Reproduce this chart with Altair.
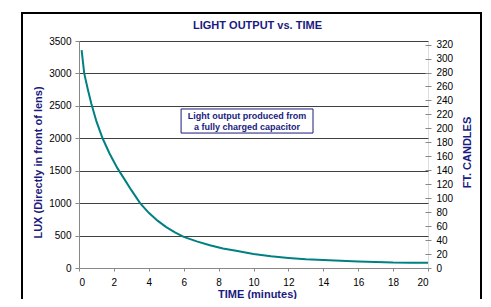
import altair as alt
import pandas as pd

# Data
times = [0.15, 0.3, 0.5, 0.7, 1.0, 1.35, 1.75, 2.2, 2.6, 3.0, 3.5, 4.0, 4.5, 5.0, 5.5,
         6.0, 6.75, 7.5, 8.25, 9.0, 10.0, 11.0, 12.0, 13.0, 14.0, 15.0, 16.0, 17.0,
         18.0, 19.0, 20.0]
lux = [3360, 3000, 2760, 2540, 2260, 2000, 1765, 1540, 1370, 1200, 1000, 850, 730,
       630, 550, 480, 410, 350, 300, 265, 215, 180, 155, 135, 122, 112, 100, 92, 84,
       82, 80]
x_ticks = list(range(0, 21, 2))
lux_ticks = list(range(0, 3501, 500))
fc_ticks = list(range(0, 321, 20))
LUX_PER_FC = 10.764

note_text = ["Light output produced from", "a fully charged capacitor"]
note_time = [9.63]
note_lux = [2266]
box_time = [5.85, 13.41]
box_lux = [2081, 2452]

NAVY = "#1a1a80"
FONT = "Liberation Sans"

df = pd.DataFrame({"time": times, "lux": lux})
box_df = pd.DataFrame({"time": [box_time[0]], "t2": [box_time[1]],
                       "lux": [box_lux[0]], "l2": [box_lux[1]]})
note_df = pd.DataFrame({"time": note_time, "lux": note_lux, "label": ["\n".join(note_text)]})

xscale = alt.Scale(domain=[0, 20], nice=False)
yscale = alt.Scale(domain=[0, 3500], nice=False)

x_enc = alt.X("time:Q", scale=xscale, axis=alt.Axis(
    values=x_ticks, title="TIME (minutes)", grid=False, titleColor=NAVY,
    tickSize=3, labelPadding=6, titleX=178, titleY=26,
    titleBaseline="middle", titleAlign="center"))
y_enc = alt.Y("lux:Q", scale=yscale, axis=alt.Axis(
    values=lux_ticks, format="d", title="LUX (Directly in front of lens)", grid=True,
    gridColor="#404040", gridWidth=1, gridOpacity=1, titleColor=NAVY,
    tickSize=4, labelPadding=4, titleAngle=270, titleX=-41, titleY=121,
    titleBaseline="middle", titleAlign="center"))

line = alt.Chart(df).mark_line(color="#008080", strokeWidth=2).encode(x=x_enc, y=y_enc)

box = alt.Chart(box_df).mark_rect(fill="white", stroke=NAVY, strokeWidth=1).encode(
    x=x_enc, x2="t2", y=y_enc, y2="l2",
)

note = alt.Chart(note_df).mark_text(
    font=FONT, fontSize=9, fontWeight="bold", color=NAVY, lineBreak="\n",
    lineHeight=11, align="center", baseline="middle", dy=-5
).encode(x=x_enc, y=y_enc, text="label:N")

fc_line = alt.Chart(df).transform_calculate(fc=f"datum.lux / {LUX_PER_FC}").mark_line(
    opacity=0).encode(
    x=x_enc,
    y=alt.Y("fc:Q", scale=alt.Scale(domain=[0, 3500 / LUX_PER_FC], nice=False),
            axis=alt.Axis(orient="right", values=fc_ticks, title="FT. CANDLES",
                          grid=False, tickSize=6, offset=-3, domain=False,
                          titleColor=NAVY,
                          labelPadding=5, titleAngle=270, titleX=42, titleY=111,
                          titleBaseline="middle", titleAlign="center")),
)

frame = alt.Chart(box_df).mark_rect(fill=None, stroke="black", strokeWidth=2,
                                    clip=False).encode(
    x=alt.value(-57), x2=alt.value(402), y=alt.value(-28), y2=alt.value(264))

inner = alt.layer(line, box, note)
chart = alt.layer(inner, fc_line, frame).resolve_scale(
    y="independent"
).properties(
    width=349, height=227,
    title=alt.TitleParams("LIGHT OUTPUT vs. TIME", fontSize=11, font=FONT,
                          fontWeight="bold", color=NAVY, anchor="middle", dx=4,
                          frame="group", offset=-19),
    autosize=alt.AutoSizeParams(type="none"),
    padding={"left": 71, "top": 33, "right": 54, "bottom": 31},
).configure_view(
    stroke="#222222", strokeWidth=1.5
).configure_axis(
    labelFont=FONT, labelFontSize=9, labelFontWeight="bold", labelColor="black",
    titleFont=FONT, titleFontSize=9, titleFontWeight="bold", titleColor=NAVY,
    domainColor="black", tickColor="black",
).configure(background="white")

chart.save("out.html", embed_options={"renderer": "svg", "actions": False})
